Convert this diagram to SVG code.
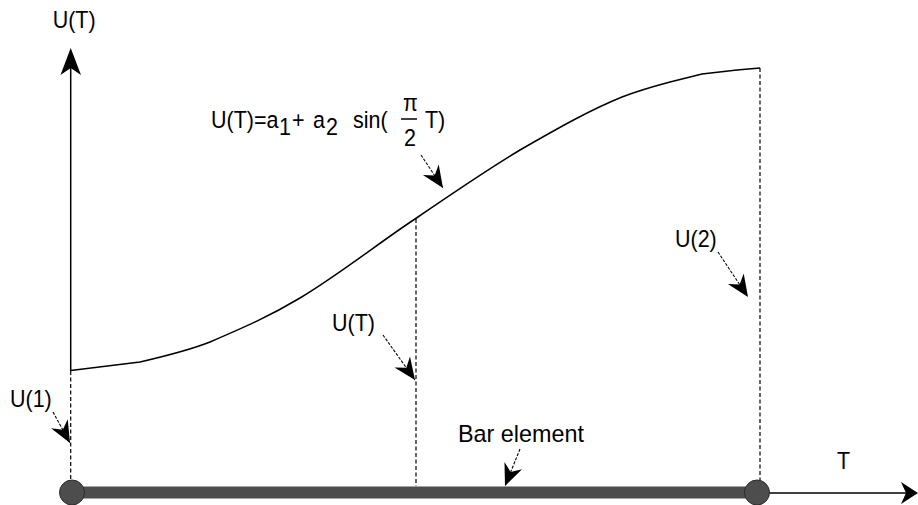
<svg xmlns="http://www.w3.org/2000/svg" width="918" height="505" viewBox="0 0 918 505">
<style>
text{font-family:"Liberation Sans",Arial,sans-serif;font-size:21.5px;fill:#000}
.ax{stroke:#000;stroke-width:1.5;fill:none}
.dash{stroke:#000;stroke-width:1.2;stroke-dasharray:4 2.5;fill:none}
.ptr{stroke:#000;stroke-width:1.1;stroke-dasharray:3 1.5;fill:none}
.curve{stroke:#000;stroke-width:1.5;fill:none}
</style>
<defs>
<marker id="ph" markerUnits="userSpaceOnUse" markerWidth="26" markerHeight="22" viewBox="-23 -11 25 22" refX="0" refY="0" orient="auto">
<path d="M0,0 L-22,-9.5 L-15,0 L-22,9.5 Z" fill="#000"/>
</marker>
</defs>
<rect width="918" height="505" fill="#fff"/>
<g id="connectors">
<path class="curve" d="M70.7,370.5 L140,362 C170,355 190,350 210,342 C245,327 270,316 300,298 C340,274 380,242 415,219 C450,195 485,171 520,150 C560,127 590,110 622,97 C640,90 655,86 670,82 L702,74 L737,70 L760,68"/>
<line class="dash" x1="70.7" y1="371" x2="70.7" y2="480"/>
<line class="dash" x1="416" y1="219" x2="416" y2="486"/>
<line class="dash" x1="760" y1="68" x2="760" y2="480"/>
<line class="ptr" x1="421" y1="155" x2="443" y2="188" marker-end="url(#ph)"/>
<line class="ptr" x1="383" y1="335" x2="415" y2="380" marker-end="url(#ph)"/>
<line class="ptr" x1="53" y1="412" x2="70" y2="443" marker-end="url(#ph)"/>
<line class="ptr" x1="520" y1="449" x2="505" y2="486" marker-end="url(#ph)"/>
<line class="ptr" x1="718" y1="252" x2="748" y2="297" marker-end="url(#ph)"/>
</g>
<g id="y-axis">
<line class="ax" x1="70.7" y1="371" x2="70.7" y2="62"/>
<path d="M70.7,48 L81,75 L70.7,68 L60.5,75 Z" fill="#000"/>
<text transform="translate(52.7,28) scale(1,1.12)">U(T)</text>
</g>
<g id="t-axis">
<line class="ax" x1="757" y1="493" x2="910" y2="493"/>
<path d="M918,493 L901,482 L906,493 L901,504 Z" fill="#000"/>
<text transform="translate(837,469) scale(1,1.12)">T</text>
</g>
<g id="bar">
<line x1="73" y1="492.5" x2="757" y2="492.5" stroke="#4d4d4d" stroke-width="12"/>
<circle cx="72" cy="492.5" r="12.5" fill="#4d4d4d" stroke="#2b2b2b" stroke-width="1"/>
<circle cx="757" cy="492.5" r="12.5" fill="#4d4d4d" stroke="#2b2b2b" stroke-width="1"/>
</g>
<g id="formula">
<text transform="translate(0,128) scale(1,1.12)"><tspan x="211" y="0">U(T)=a</tspan><tspan x="279" y="6">1</tspan><tspan x="292" y="0">+</tspan><tspan x="313">a</tspan><tspan x="326" y="6">2</tspan><tspan x="353" y="0">sin(</tspan><tspan x="425">T)</tspan></text>
<text transform="translate(403,111) scale(1,1.12)">π</text>
<line x1="401" y1="119" x2="417" y2="119" stroke="#000" stroke-width="1.5"/>
<text transform="translate(404,146) scale(1,1.12)">2</text>
</g>
<g id="labels">
<text transform="translate(332,331) scale(1,1.12)">U(T)</text>
<text transform="translate(10,407) scale(1,1.12)">U(1)</text>
<text transform="translate(675,247) scale(1,1.12)">U(2)</text>
<text transform="translate(458,442) scale(1,1.12)" textLength="126" lengthAdjust="spacingAndGlyphs">Bar element</text>
</g>
</svg>
